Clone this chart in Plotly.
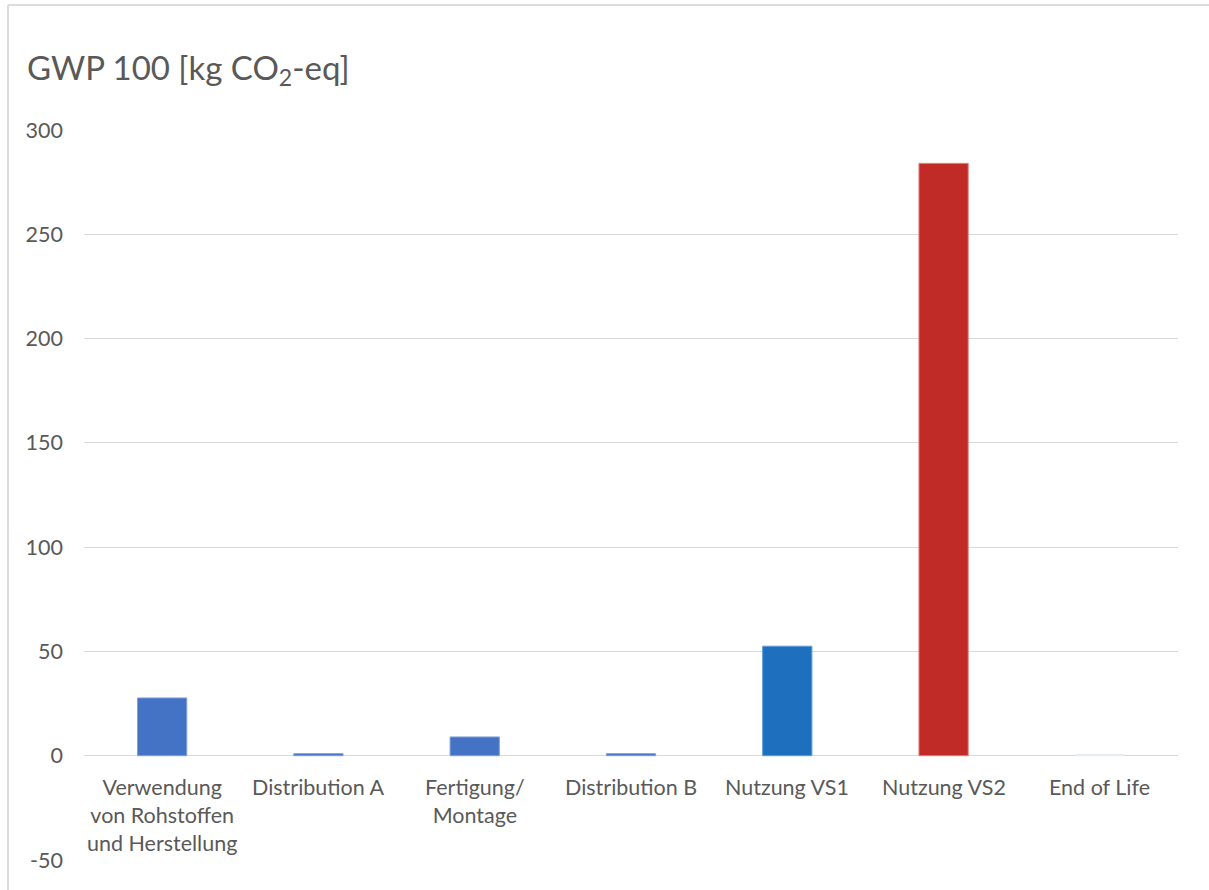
import plotly.graph_objects as go

# GWP 100 per life-cycle phase
categories = [
    "Verwendung<br>von Rohstoffen<br>und Herstellung",
    "Distribution A",
    "Fertigung/<br>Montage",
    "Distribution B",
    "Nutzung VS1",
    "Nutzung VS2",
    "End of Life",
]
gwp_values = [27.7, 1.0, 9.0, 1.0, 52.5, 284.0, 0.6]
bar_colors = ["#4472C4", "#4472C4", "#4472C4", "#4472C4", "#1F6FBF", "#C02B27", "#DCE4EF"]
edge_colors = ["#7FA0DA", "#7FA0DA", "#7FA0DA", "#7FA0DA", "#5C9BDC", "#E0807C", "#E8EEF5"]
y_ticks = [-50, 0, 50, 100, 150, 200, 250, 300]

W, H = 1209, 890
ML, MR, MT, MB = 84, 31, 130, 30
FONT = "Lato"
TXT = "#595959"
GRID = "#D9D9D9"

x_idx = list(range(len(categories)))

fig = go.Figure(
    go.Bar(
        x=x_idx,
        y=gwp_values,
        width=0.315,
        marker=dict(color=bar_colors, line=dict(color=edge_colors, width=1)),
        hoverinfo="y",
    )
)

# category labels sit just under the zero line
for i, label in zip(x_idx, categories):
    fig.add_annotation(
        x=i, y=0, xref="x", yref="y",
        text=label, showarrow=False,
        xanchor="center", yanchor="top", yshift=-16,
        align="center",
        font=dict(family=FONT, size=21.5, color=TXT),
    )

# chart frame: top and left edges (pixel offsets converted to paper units)
pw, ph = W - ML - MR, H - MT - MB
fx0 = (8 - ML) / pw
fx1 = (W - ML) / pw
fy0 = -(MB + 20) / ph
fy1 = (H - MB - 5) / ph
frame = dict(color="#DCDCDC", width=2)
fig.add_shape(type="line", xref="paper", yref="paper",
              x0=fx0, x1=fx1, y0=fy1, y1=fy1, line=frame, layer="below")
fig.add_shape(type="line", xref="paper", yref="paper",
              x0=fx0, x1=fx0, y0=fy0, y1=fy1, line=frame, layer="below")

fig.update_layout(
    width=W, height=H,
    margin=dict(l=ML, r=MR, t=MT, b=MB),
    paper_bgcolor="white", plot_bgcolor="white",
    showlegend=False,
    font=dict(family=FONT, color=TXT),
    title=dict(
        text="GWP 100 [kg CO<sub>2</sub>-eq]",
        xref="container", yref="container",
        x=27 / W, xanchor="left",
        y=1 - 68 / H, yanchor="middle",
        font=dict(family=FONT, size=33, color=TXT),
    ),
    xaxis=dict(
        range=[-0.5, len(categories) - 0.5],
        showticklabels=False, showgrid=False, zeroline=False, showline=False,
    ),
    yaxis=dict(
        range=[-50, 300],
        tickvals=y_ticks,
        ticktext=[str(v) for v in y_ticks],
        showgrid=True, gridcolor=GRID, gridwidth=1,
        zeroline=True, zerolinecolor=GRID, zerolinewidth=1,
        showline=False,
        ticks="", ticklabelstandoff=20,
        tickfont=dict(family=FONT, size=21.5, color=TXT),
    ),
)

fig.write_html("out.html", config={"displayModeBar": False})
